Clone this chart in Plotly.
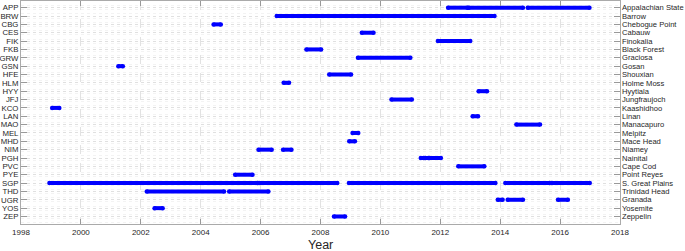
import plotly.graph_objects as go

codes = ["APP", "BRW", "CBG", "CES", "FIK", "FKB", "GRW", "GSN", "HFE", "HLM", "HYY", "JFJ",
         "KCO", "LAN", "MAO", "MEL", "MHD", "NIM", "PGH", "PVC", "PYE", "SGP", "THD", "UGR",
         "YOS", "ZEP"]
names = ["Appalachian State", "Barrow", "Chebogue Point", "Cabauw", "Finokalia", "Black Forest",
         "Graciosa", "Gosan", "Shouxian", "Holme Moss", "Hyytiala", "Jungfraujoch", "Kaashidhoo",
         "Linan", "Manacapuro", "Melpitz", "Mace Head", "Niamey", "Nainital", "Cape Cod",
         "Point Reyes", "S. Great Plains", "Trinidad Head", "Granada", "Yosemite", "Zeppelin"]

seg_site = ["APP", "APP", "APP", "BRW", "CBG", "CES", "FIK", "FKB", "GRW", "GSN", "HFE", "HLM",
            "HYY", "JFJ", "KCO", "LAN", "MAO", "MEL", "MHD", "NIM", "NIM", "PGH", "PGH", "PGH",
            "PVC", "PYE", "SGP", "SGP", "SGP", "SGP", "SGP", "THD", "THD", "UGR", "UGR", "UGR",
            "YOS", "ZEP"]
seg_start = [2012.26, 2012.95, 2014.92, 2006.54, 2004.43, 2009.38, 2011.92, 2007.53, 2009.25,
             2001.25, 2008.29, 2006.77, 2013.28, 2010.37, 1999.04, 2013.08, 2014.54, 2009.07,
             2008.96, 2005.93, 2006.75, 2011.35, 2011.5, 2011.63, 2012.6, 2005.15, 1998.95,
             2005.95, 2008.95, 2014.17, 2015.73, 2002.2, 2004.95, 2013.92, 2014.25, 2015.93,
             2002.46, 2008.45]
seg_end = [2012.91, 2014.76, 2016.98, 2013.81, 2004.67, 2009.77, 2013.0, 2008.02, 2011.0,
           2001.4, 2009.02, 2006.95, 2013.56, 2011.05, 1999.28, 2013.26, 2015.33, 2009.26,
           2009.15, 2006.37, 2007.03, 2011.45, 2011.6, 2012.02, 2013.47, 2005.73, 2005.9,
           2008.56, 2013.84, 2015.65, 2016.99, 2004.78, 2006.26, 2014.08, 2014.76, 2016.26,
           2002.73, 2008.82]

year_ticks = list(range(1998, 2019, 2))

idx = {c: i for i, c in enumerate(codes)}
xs, ys = [], []
for s, a, b in zip(seg_site, seg_start, seg_end):
    xs += [a, b, None]
    ys += [idx[s], idx[s], None]

fig = go.Figure()
fig.add_trace(go.Scatter(x=xs, y=ys, mode="lines+markers",
                         line=dict(color="#0000ff", width=4),
                         marker=dict(color="#0000ff", size=4.5),
                         showlegend=False, hoverinfo="skip"))
fig.add_trace(go.Scatter(x=[None], y=[None], yaxis="y2", showlegend=False))

n = len(codes)
yr = [25.9, -0.8]
FONT = "Liberation Sans, Arial, sans-serif"
tickfont = dict(family=FONT, size=8, color="#262626")
fig.update_layout(
    width=685, height=251,
    margin=dict(l=21, r=65, t=1, b=27),
    plot_bgcolor="white", paper_bgcolor="white",
    hovermode=False,
    xaxis=dict(range=[1998, 2018], tickvals=year_ticks, ticktext=[str(y) for y in year_ticks],
               showgrid=True, gridcolor="#e2e2e2", griddash="dash", gridwidth=1,
               ticks="inside", ticklen=5, tickcolor="#999999", mirror="ticks",
               showline=True, linecolor="#aaaaaa", linewidth=1,
               zeroline=False, tickfont=tickfont, automargin=False),
    yaxis=dict(range=yr, tickvals=list(range(n)), ticktext=codes,
               showgrid=True, gridcolor="#e0e0e0", griddash="dot", gridwidth=1,
               ticks="inside", ticklen=6, tickcolor="#999999",
               showline=True, linecolor="#aaaaaa", linewidth=1, mirror=True,
               zeroline=False, tickfont=dict(family=FONT, size=7.8, color="#262626"),
               ticklabelstandoff=0, automargin=False,
               minor=dict(dtick=0.5, tick0=0.25, showgrid=True, gridcolor="#f3f3f3")),
    yaxis2=dict(range=yr, tickvals=list(range(n)), ticktext=names, overlaying="y",
                side="right", showgrid=False, ticks="inside", ticklen=6,
                tickcolor="#999999", zeroline=False,
                tickfont=dict(family=FONT, size=7.6, color="#262626"),
                ticklabelstandoff=1, automargin=False),
    annotations=[dict(text="Year", x=0.5, xref="paper", y=-0.094, yref="paper",
                      xanchor="center", yanchor="middle", showarrow=False,
                      font=dict(family=FONT, size=12.5, color="#262626"))],
)
fig.write_html("out.html", config={"displayModeBar": False},
               post_script="document.body.style.margin='0';document.body.style.overflow='hidden';")
